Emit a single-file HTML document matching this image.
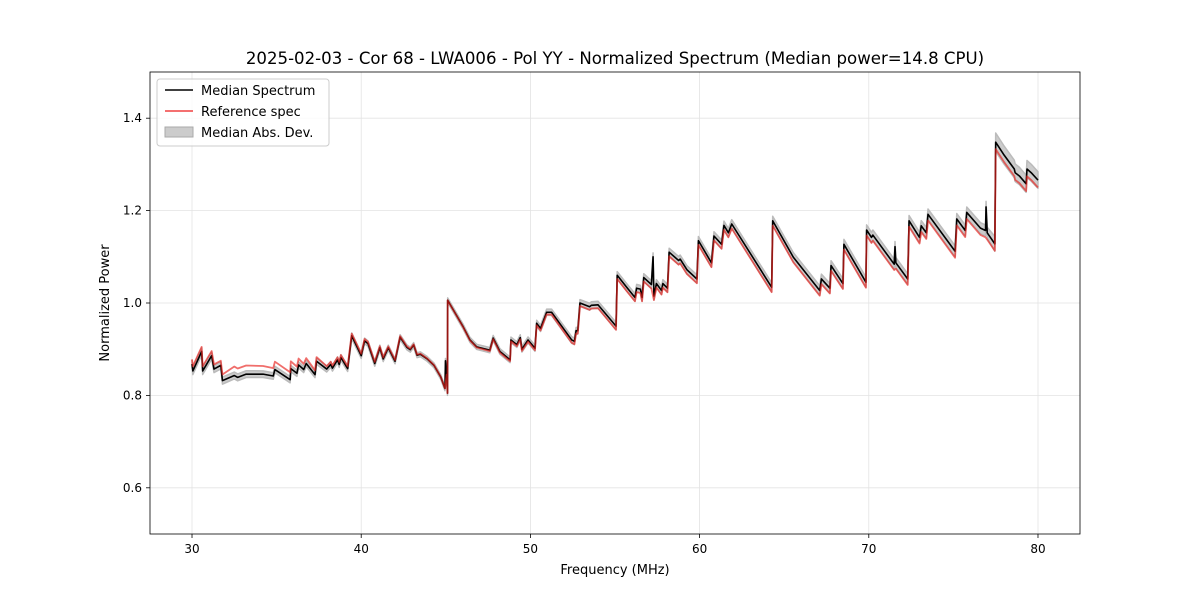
<!DOCTYPE html>
<html><head><meta charset="utf-8"><style>
body{margin:0;background:#fff;font-family:"DejaVu Sans","Liberation Sans",sans-serif;}
svg text{font-family:"DejaVu Sans","Liberation Sans",sans-serif;fill:#000}
</style></head><body>
<svg id="chart" width="1200" height="600" xmlns="http://www.w3.org/2000/svg">
<rect width="1200" height="600" fill="#fff"/>
<text x="615" y="64" font-size="16.6" text-anchor="middle">2025-02-03 - Cor 68 - LWA006 - Pol YY - Normalized Spectrum (Median power=14.8 CPU)</text>
<g id="grid"></g><g id="series"></g><g id="axes"></g>
<text x="615" y="574" font-size="13" text-anchor="middle">Frequency (MHz)</text>
<text transform="translate(109,303) rotate(-90)" font-size="13" text-anchor="middle">Normalized Power</text>
<g>
<rect x="157" y="79" width="172" height="67" rx="3" fill="#fff" fill-opacity="0.8" stroke="#ccc"/>
<line x1="165" y1="90" x2="193" y2="90" stroke="#000" stroke-width="1.5"/>
<text x="201" y="95" font-size="13">Median Spectrum</text>
<line x1="165" y1="111" x2="193" y2="111" stroke="#f04040" stroke-width="1.5"/>
<text x="201" y="116" font-size="13">Reference spec</text>
<rect x="165" y="127" width="28" height="10" fill="#ccc" stroke="#aaa"/>
<text x="201" y="137" font-size="13">Median Abs. Dev.</text>
</g>
</svg>
<script>
const freq=[30.0,30.05,30.57,30.63,31.16,31.3,31.7,31.8,32.5,32.7,33.2,34.2,34.8,34.9,35.8,35.84,36.2,36.3,36.6,36.75,37.27,37.36,37.96,38.2,38.3,38.6,38.7,38.8,39.1,39.2,39.44,40.0,40.2,40.4,40.8,41.1,41.3,41.6,42.0,42.3,42.7,42.9,43.1,43.3,43.5,43.9,44.3,44.7,44.95,44.98,45.05,45.1,45.11,46.02,46.43,46.83,47.6,47.8,48.2,48.8,48.85,49.2,49.4,49.5,49.86,50.27,50.37,50.6,50.96,51.25,52.44,52.6,52.7,52.8,52.93,53.5,53.6,54.0,55.06,55.13,55.69,56.18,56.28,56.5,56.6,56.7,57.15,57.25,57.3,57.45,57.75,57.83,58.1,58.2,58.76,58.85,59.25,59.84,59.93,60.7,60.85,61.3,61.44,61.7,61.9,64.26,64.32,65.54,67.1,67.2,67.7,67.77,68.47,68.53,69.83,69.87,70.16,70.24,71.5,71.55,71.6,72.3,72.38,73.0,73.1,73.4,73.5,75.1,75.2,75.7,75.79,76.6,76.9,76.93,77.0,77.45,77.5,78.0,78.6,78.65,78.9,79.3,79.35,79.6,80.0];
const median=[0.868,0.853,0.895,0.853,0.886,0.857,0.865,0.832,0.843,0.839,0.846,0.846,0.842,0.856,0.834,0.858,0.848,0.866,0.856,0.869,0.845,0.874,0.857,0.867,0.859,0.877,0.867,0.882,0.864,0.858,0.929,0.886,0.918,0.912,0.869,0.903,0.879,0.903,0.874,0.926,0.904,0.899,0.909,0.887,0.889,0.879,0.865,0.84,0.815,0.875,0.845,0.805,1.006,0.949,0.92,0.905,0.898,0.924,0.895,0.877,0.92,0.91,0.925,0.9,0.92,0.902,0.956,0.945,0.98,0.98,0.92,0.917,0.94,0.94,1.0,0.992,0.995,0.996,0.95,1.06,1.034,1.012,1.032,1.03,1.012,1.055,1.04,1.1,1.015,1.042,1.027,1.042,1.032,1.11,1.092,1.095,1.072,1.052,1.135,1.087,1.145,1.127,1.168,1.152,1.171,1.034,1.178,1.099,1.027,1.052,1.032,1.081,1.042,1.127,1.045,1.158,1.142,1.147,1.084,1.122,1.087,1.052,1.178,1.142,1.167,1.152,1.192,1.112,1.182,1.157,1.196,1.162,1.157,1.208,1.152,1.128,1.348,1.32,1.29,1.282,1.275,1.258,1.29,1.282,1.266];
const spikeFreqs=[44.98,57.25,71.55,76.93];
const refDeltaFreq=[30,31.7,32,35.8,38,45,55,70,80];
const refDelta=[0.01,0.01,0.02,0.016,0.006,0,-0.008,-0.012,-0.016];
const madFreq=[30,45,55,70,77.4,77.5,80];
const madWidth=[0.008,0.005,0.008,0.011,0.012,0.02,0.018];
const xTicks=[30,40,50,60,70,80];
const yTicks=[0.6,0.8,1.0,1.2,1.4];
const yTickLabels=["0.6","0.8","1.0","1.2","1.4"];
const X0=150,X1=1080,Y0=72,Y1=534,xmin=27.517,xmax=82.483,ymin=0.5,ymax=1.5;
const sx=f=>X0+(f-xmin)/(xmax-xmin)*(X1-X0);
const sy=v=>Y1-(v-ymin)/(ymax-ymin)*(Y1-Y0);
function lerp(xs,ys,x){for(let i=1;i<xs.length;i++){if(x<=xs[i]){const t=(x-xs[i-1])/(xs[i]-xs[i-1]);return ys[i-1]+t*(ys[i]-ys[i-1]);}}return ys[ys.length-1];}
const NS="http://www.w3.org/2000/svg";
function mk(tag,attrs,parent){const e=document.createElementNS(NS,tag);for(const k in attrs)e.setAttribute(k,attrs[k]);parent.appendChild(e);return e;}
const grid=document.getElementById('grid'),axes=document.getElementById('axes'),series=document.getElementById('series');
xTicks.forEach(t=>{const x=sx(t);
 const g=mk('line',{x1:x,x2:x,y1:Y0,y2:Y1,stroke:'#e3e3e3','stroke-width':0.8},grid);
 
 
 mk('line',{x1:x,x2:x,y1:Y1,y2:Y1+4,stroke:'#000','stroke-width':0.8},axes);
 const l=mk('text',{x:x,y:Y1+19,'font-size':12,'text-anchor':'middle'},axes);l.textContent=t;
 
 });
yTicks.forEach((t,i)=>{const y=sy(t);
 const g=mk('line',{x1:X0,x2:X1,y1:y,y2:y,stroke:'#e3e3e3','stroke-width':0.8},grid);
 
 
 mk('line',{x1:X0-4,x2:X0,y1:y,y2:y,stroke:'#000','stroke-width':0.8},axes);
 const l=mk('text',{x:X0-8,y:y+4,'font-size':12,'text-anchor':'end'},axes);l.textContent=yTickLabels[i];
 
 });
const frame=mk('rect',{x:X0,y:Y0,width:X1-X0,height:Y1-Y0,fill:'none',stroke:'#000','stroke-width':0.8},axes);


let up=[],dn=[];
freq.forEach((f,i)=>{const w=lerp(madFreq,madWidth,f);up.push(sx(f)+','+sy(median[i]+w));dn.unshift(sx(f)+','+sy(median[i]-w));});
const band=mk('polygon',{points:up.concat(dn).join(' '),fill:'#bbb','fill-opacity':0.75,stroke:'#bbb','stroke-width':1.5,'stroke-linejoin':'round'},series);


const medPath=mk('polyline',{points:freq.map((f,i)=>sx(f)+','+sy(median[i])).join(' '),fill:'none',stroke:'#000','stroke-width':1.6,'stroke-linejoin':'round'},series);


const refPts=[];freq.forEach((f,i)=>{if(spikeFreqs.includes(f))return;refPts.push(sx(f)+','+sy(median[i]+lerp(refDeltaFreq,refDelta,f)));});
const refPath=mk('polyline',{points:refPts.join(' '),fill:'none',stroke:'#e8201c','stroke-opacity':0.65,'stroke-width':1.8,'stroke-linejoin':'round'},series);


</script>
</body></html>
